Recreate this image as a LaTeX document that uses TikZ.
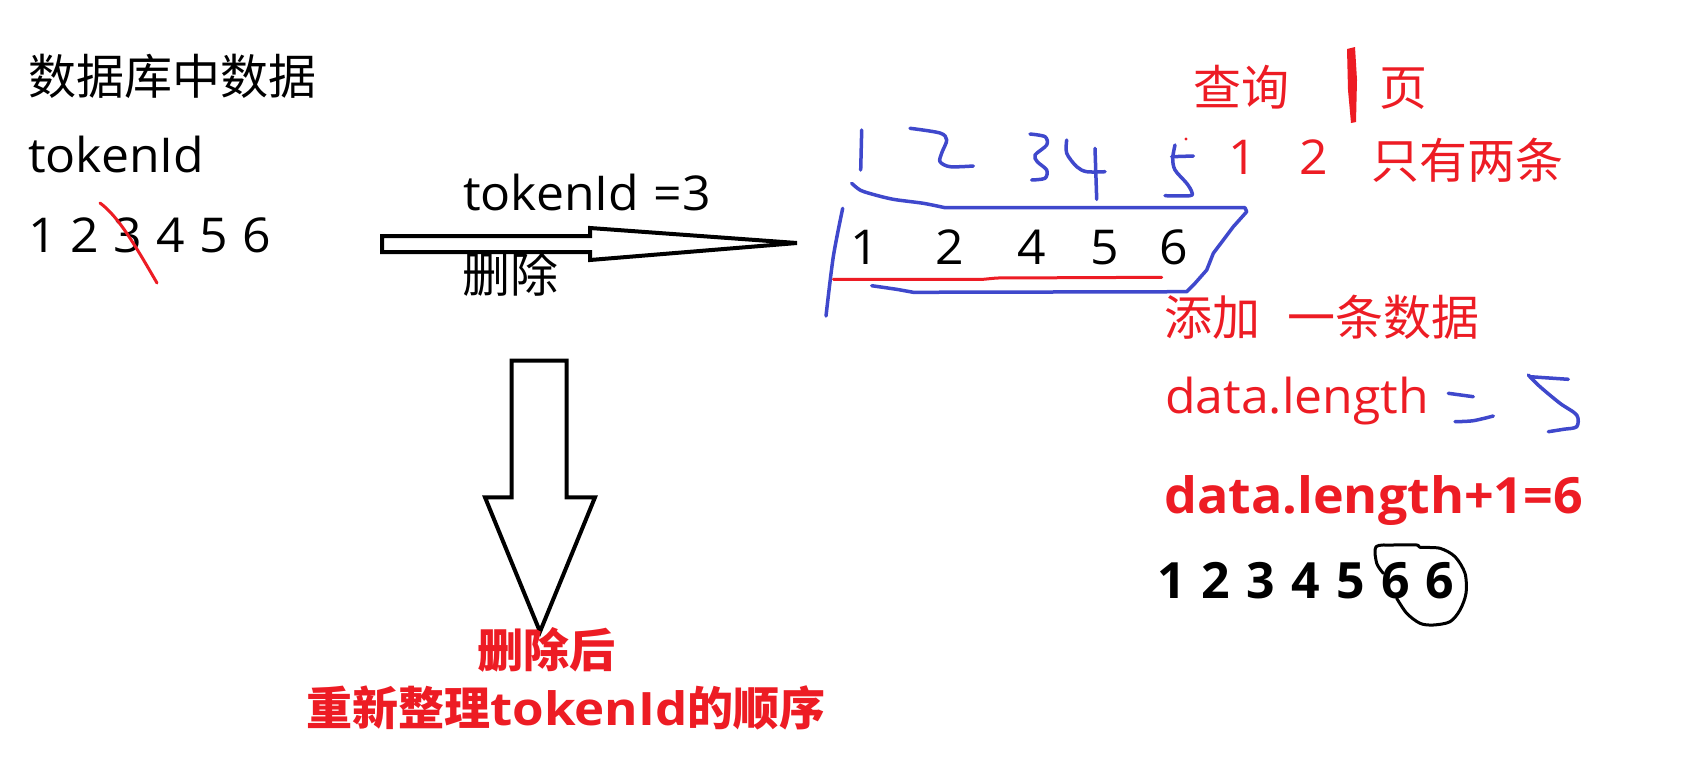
\documentclass[tikz,border=0pt]{standalone}
\usepackage{fontspec}
\setmainfont[FakeStretch=1.04, WordSpace=1.1]{Open Sans}
\newfontfamily\cjk{Noto Sans CJK SC}
\newfontfamily\latb[FakeStretch=1.11]{Open Sans}
\newfontfamily\widesp[WordSpace=1.25]{Open Sans}
\definecolor{pred}{HTML}{ED1C24}
\definecolor{pblue}{HTML}{3F48CC}
\tikzset{
  txt/.style={inner sep=0pt, anchor=base west, font=\fontsize{48}{56}\selectfont},
  btxt/.style={inner sep=0pt, anchor=base west, font=\fontsize{50}{58}\selectfont\bfseries},
  ctr/.style={inner sep=0pt, anchor=center, font=\fontsize{46}{54}\selectfont\bfseries, text=pred},
  pen/.style={line width=3.5pt, line cap=round, line join=round},
  blockarrow/.style={line width=4pt, line join=miter, draw=black, fill=white},
}
\begin{document}
\begin{tikzpicture}[x=1pt, y=-1pt]
\useasboundingbox[fill=white] (0,0) rectangle (1681,761);

% left column
\node[txt] (title) at (28,94) {\cjk 数据库中数据};
\node[txt] (tok) at (28,172) {tokenId};
\node[txt] (seq) at (28,252) {1 2 3 4 5 6};
\draw[pen, pred, line width=3pt] (100,203) .. controls (118,216) and (135,245) .. (157,283);

% horizontal block arrow
\draw[blockarrow] (382,236) -- (590,236) -- (590,228) -- (797,243) -- (590,260) -- (590,252) -- (382,252) -- cycle;
\node[txt] (tokeq) at (463,210) {tokenId =3};
\node[txt] (del) at (462,292) {\cjk 删除};

% down block arrow
\draw[blockarrow] (511.7,360.7) -- (566.7,360.7) -- (566.7,497.3) -- (595,497.3) -- (540,631.7) -- (485,497.3) -- (511.7,497.3) -- cycle;
\node[ctr] (after) at (546,650) {\cjk 删除后};
\node[ctr] (reorder) at (566,708) {\cjk 重新整理\latb\bfseries tokenId\cjk\bfseries 的顺序};

% blue handwritten digits above box
\draw[pen, pblue] (861.7,130) -- (860.7,170);
\draw[pen, pblue] plot[smooth] coordinates {(910,128.3) (940,133) (946.7,140) (941.7,153) (940,161.7) (950,166.7) (973.3,166)};
\draw[pen, pblue] plot[smooth] coordinates {(1030,134) (1045,136.7) (1046.7,145) (1035,155) (1037.3,161.7) (1046.7,170) (1045,178.3) (1031.7,180)};
\draw[pen, pblue] plot[smooth] coordinates {(1066.7,140) (1066.7,153.3) (1076.7,166.7) (1086.7,171.7) (1105,171.7)};
\draw[pen, pblue] (1095,148.3) -- (1096.7,199.3);
\draw[pen, pblue] (1171.7,156.7) -- (1193.3,156);
\draw[pen, pblue] plot[smooth] coordinates {(1175,145) (1172.7,158.3) (1175,170) (1186.7,183.3) (1191.7,191.7) (1190,195.7) (1165,195.7)};
\fill[pred] (1186,139) circle (1.6);

% box
\draw[pen, pblue] plot[smooth] coordinates {(851.7,183.3) (860,190) (871.7,194) (893.3,199.3) (923.3,203.3) (945,207.7)} -- (1245,207.7)
  -- (1246.7,211.7) -- (1233.3,226.7) -- (1223.3,240) -- (1213.3,253.3) -- (1206.7,270) -- (1195,283.3) -- (1186.7,291.7)
  -- (913.3,292.3) -- (896.7,289.3) -- (871.7,285.7);
\draw[pen, pblue] plot[smooth] coordinates {(842.7,208.3) (833.3,256.7) (826,316)};
\draw[pen, pred, line width=3pt] (833.3,279.3) -- (983.3,279.3) -- (996.7,278) -- (1161.7,277.3);
\node[txt] (b1) at (850,264) {1};
\node[txt] (b2) at (935,264) {2};
\node[txt] (b4) at (1017,264) {4};
\node[txt] (b5) at (1090,264) {5};
\node[txt] (b6) at (1159,264) {6};

% right column
\node[txt, text=pred] (query) at (1193,105) {\cjk 查询};
\fill[pred] (1347,49) -- (1355,47) -- (1357,80) -- (1356,122) -- (1351,123) -- (1348,90) -- cycle;
\node[txt, text=pred] (page) at (1379,105) {\cjk 页};
\node[txt, text=pred] (r1) at (1228,174) {1};
\node[txt, text=pred] (r2) at (1299,174) {2};
\node[txt, text=pred] (only) at (1371,178) {\cjk 只有两条};
\node[txt, text=pred] (add) at (1164,335) {\cjk 添加};
\node[txt, text=pred] (one) at (1287,335) {\cjk 一条数据};
\node[txt, text=pred] (len) at (1165,413) {data.length};
\draw[pen, pblue] (1448.3,393.3) -- (1473.3,396.7);
\draw[pen, pblue] plot[smooth] coordinates {(1455,421.7) (1473.3,420.7) (1493.3,416)};
\draw[pen, pblue] (1530,376.7) -- (1568.3,379.3);
\draw[pen, pblue] plot[smooth] coordinates {(1528.3,375) (1540,386.7) (1560,403.3) (1576.7,415) (1576.7,426.7) (1563.3,429.3) (1548.3,431.7)};
\node[btxt, text=pred] (len1) at (1164,513) {data.length+1=6};
\node[btxt] (seq2) at (1157,598) {\widesp\bfseries 1 2 3 4 5 6 6};
\draw[line width=3pt, line cap=round, line join=round] plot[smooth] coordinates {(1383.3,573.3) (1376.7,563.3) (1376,546.7) (1393.3,545) (1416.7,545) (1420,547.3) (1440,548.3) (1455,556.7) (1465,573.3) (1466,593.3) (1460,610) (1450,621.7) (1433.3,625) (1420,623.3) (1406.7,613.3) (1396.7,598.3)};
\end{tikzpicture}
\end{document}
